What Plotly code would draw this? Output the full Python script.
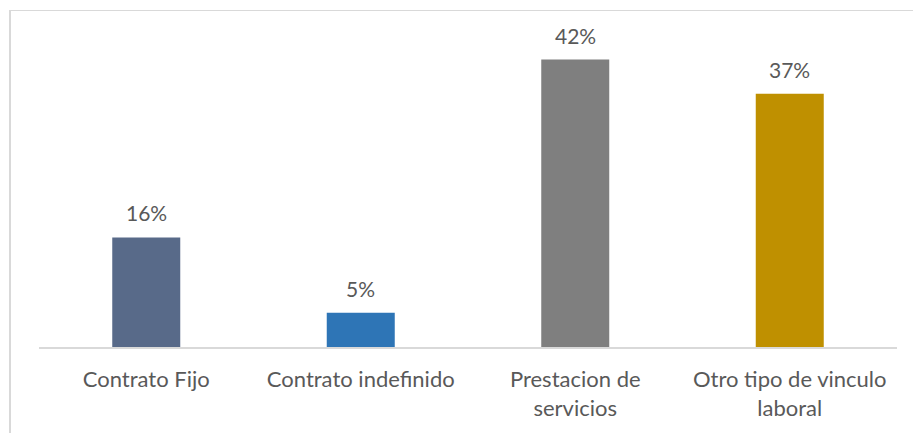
import plotly.graph_objects as go

categories = ["Contrato Fijo", "Contrato indefinido", "Prestacion de<br>servicios", "Otro tipo de vinculo<br>laboral"]
values = [16, 5, 42, 37]
colors = ["#586A89", "#2E75B6", "#7F7F7F", "#BF9000"]

FONT = "Lato"
TEXT = "#595959"

fig = go.Figure(
    go.Bar(
        x=categories,
        y=values,
        marker=dict(color=colors, line=dict(width=0)),
        width=0.317,
        hoverinfo="skip",
    )
)

# value labels above each bar
for c, v in zip(categories, values):
    fig.add_annotation(
        x=c, y=v, text=f"{v}%", showarrow=False,
        yanchor="bottom", yshift=10,
        font=dict(family=FONT, size=21, color=TEXT),
    )

# chart-area border (left and top edges)
L, T, B = 39, 39, 86
W = 913 - L - 16
H = 433 - T - B
def px_x(p):
    return (p - L) / W
def px_y(p):
    return (433 - B - p) / H

fig.add_shape(type="line", xref="paper", yref="paper",
              x0=px_x(10), x1=px_x(10), y0=px_y(10), y1=px_y(460),
              line=dict(color="#D9D9D9", width=2))
fig.add_shape(type="line", xref="paper", yref="paper",
              x0=px_x(9), x1=px_x(940), y0=px_y(10.5), y1=px_y(10.5),
              line=dict(color="#D9D9D9", width=1))

fig.update_layout(
    width=913, height=433,
    margin=dict(l=L, r=16, t=T, b=B),
    paper_bgcolor="white", plot_bgcolor="white",
    showlegend=False,
    font=dict(family=FONT, size=22, color=TEXT),
    xaxis=dict(
        showline=True, linecolor="#D9D9D9", linewidth=1.5,
        showgrid=False, ticks="", ticklabelstandoff=12,
        tickfont=dict(family=FONT, size=22, color=TEXT),
        fixedrange=True,
    ),
    yaxis=dict(
        range=[0, 45], visible=False, showgrid=False, zeroline=False,
        fixedrange=True,
    ),
)

fig.write_html("out.html")
